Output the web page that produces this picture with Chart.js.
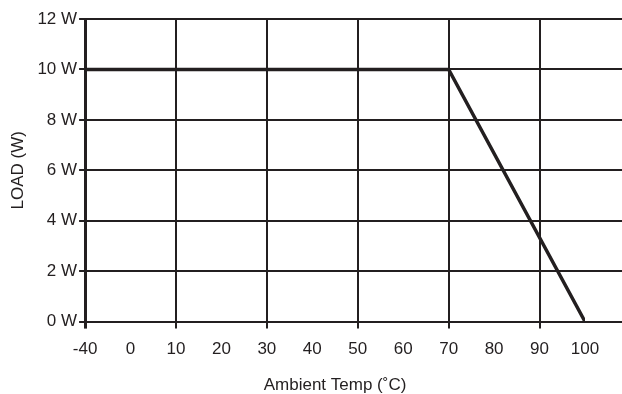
<!DOCTYPE html>
<html>
<head>
<meta charset="utf-8">
<script src="https://cdn.jsdelivr.net/npm/chart.js@4.4.1/dist/chart.umd.min.js"></script>
<style>
  html, body { margin: 0; padding: 0; background: #fff; }
  #wrap { width: 622px; height: 394px; }
</style>
</head>
<body>
<div id="wrap"><canvas id="chart" width="622" height="394"></canvas></div>
<script>
// Tick labels along the (broken) temperature axis, evenly spaced
const tempLabels = ['-40', '0', '10', '20', '30', '40', '50', '60', '70', '80', '90', '100'];
// Derating curve
const curveTemp = [-40, 70, 100];
const curveLoad = [10, 10, 0];
// Load ticks
const loadTicks = [0, 2, 4, 6, 8, 10, 12];

const INK = '#231f20';
const FONT = '"Liberation Sans", Arial, Helvetica, sans-serif';

// temperature -> position on the evenly spaced axis
const tempIndex = t => tempLabels.indexOf(String(t));

// horizontal grid lines run on past the last label to the edge of the page
const extendGrid = {
  id: 'extendGrid',
  beforeDatasetsDraw(chart) {
    const { ctx, chartArea, scales } = chart;
    ctx.save();
    ctx.strokeStyle = INK;
    ctx.lineWidth = 2;
    loadTicks.forEach(v => {
      const y = Math.round(scales.y.getPixelForValue(v));
      ctx.beginPath();
      ctx.moveTo(chartArea.right, y);
      ctx.lineTo(chart.width, y);
      ctx.stroke();
    });
    ctx.restore();
  }
};

new Chart(document.getElementById('chart'), {
  type: 'line',
  data: {
    datasets: [{
      data: curveTemp.map((t, i) => ({ x: tempIndex(t), y: curveLoad[i] })),
      borderColor: INK,
      borderWidth: 3.5,
      pointRadius: 0,
      tension: 0,
      fill: false
    }]
  },
  options: {
    responsive: false,
    animation: false,
    layout: { padding: { top: 19, right: 37, left: 8, bottom: 0 } },
    plugins: { legend: { display: false }, tooltip: { enabled: false } },
    scales: {
      x: {
        type: 'linear',
        min: 0,
        max: tempLabels.length - 1,
        afterBuildTicks: scale => { scale.ticks = tempLabels.map((_, i) => ({ value: i })); },
        ticks: {
          callback: v => tempLabels[v],
          color: INK,
          font: { family: FONT, size: 17 },
          padding: 11,
          maxRotation: 0,
          autoSkip: false
        },
        grid: {
          color: c => (c.tick && c.tick.value % 2 === 0) ? INK : 'rgba(0,0,0,0)',
          lineWidth: c => (c.tick && c.tick.value === 0) ? 3 : 2,
          tickLength: 7,
          drawOnChartArea: true
        },
        border: { display: false },
        title: {
          display: true,
          text: 'Ambient Temp (˚C)',
          color: INK,
          font: { family: FONT, size: 17, lineHeight: 1 },
          padding: { top: 6, bottom: 0 }
        }
      },
      y: {
        min: 0,
        max: 12,
        afterBuildTicks: scale => { scale.ticks = loadTicks.map(v => ({ value: v })); },
        ticks: {
          callback: v => v + ' W',
          color: INK,
          font: { family: FONT, size: 17 },
          padding: 2
        },
        grid: {
          color: INK,
          lineWidth: 2,
          tickLength: 6
        },
        border: { display: true, color: INK, width: 3 },
        title: {
          display: true,
          text: 'LOAD (W)',
          color: INK,
          font: { family: FONT, size: 17 },
          padding: { top: 0, bottom: 7 }
        }
      }
    }
  },
  plugins: [extendGrid]
});
</script>
</body>
</html>
